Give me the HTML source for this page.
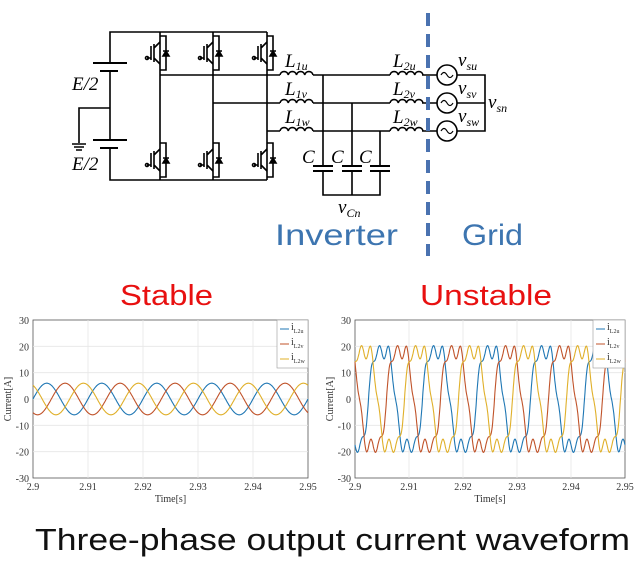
<!DOCTYPE html>
<html><head><meta charset="utf-8"><style>
html,body{margin:0;padding:0;background:#fff;width:641px;height:571px;overflow:hidden}
svg{display:block}
.s{font-family:"Liberation Serif",serif;font-style:italic}
.t{font-family:"Liberation Serif",serif;font-size:10px;fill:#333}
</style></head><body>
<svg id="sv" width="641" height="571" viewBox="0 0 641 571" xmlns="http://www.w3.org/2000/svg">
<g stroke="#000" stroke-width="1.6" fill="none" id="circ">
<path d="M110 63 V32 H267 M110 71 V140 M110 148 V180 H267"/>
<path d="M93 63 H127 M100 71 H118 M93 140 H127 M100 148 H118" stroke-width="2"/>
<path d="M110 108 H79 V143 M72 144 H86 M74 147 H84 M76 150 H82"/>
<path d="M160 32 V180 M213 32 V180 M267 32 V180"/>
<path d="M160 75 H280 M213 103 H280 M267 131 H280"/>
<path d="M313 75 H390 M313 103 H390 M313 131 H390 M422 75 H437 M422 103 H437 M422 131 H437"/>
<path d="M323 75 V166 M352 103 V166 M380 131 V166 M323 171 V195 H380 V171 M352 171 V195"/>
<path d="M313 166 H333 M313 171 H333 M342 166 H362 M342 171 H362 M370 166 H390 M370 171 H390" stroke-width="2"/>
<circle cx="447" cy="75" r="10"/><circle cx="447" cy="103" r="10"/><circle cx="447" cy="131" r="10"/>
<path d="M457 75 H485 V131 H457 M457 103 H485"/>
<path d="M441 75 q3 -5 6 0 t6 0 M441 103 q3 -5 6 0 t6 0 M441 131 q3 -5 6 0 t6 0" stroke-width="1.2"/>
</g>
<g fill="#000" class="s" font-size="19">
<text x="72" y="90">E/2</text><text x="72" y="170">E/2</text>
<text x="285" y="67">L<tspan font-size="12" dy="3">1u</tspan></text>
<text x="285" y="95">L<tspan font-size="12" dy="3">1v</tspan></text>
<text x="285" y="123">L<tspan font-size="12" dy="3">1w</tspan></text>
<text x="393" y="67">L<tspan font-size="12" dy="3">2u</tspan></text>
<text x="393" y="95">L<tspan font-size="12" dy="3">2v</tspan></text>
<text x="393" y="123">L<tspan font-size="12" dy="3">2w</tspan></text>
<text x="302" y="163">C</text><text x="331" y="163">C</text><text x="359" y="163">C</text>
<text x="338" y="213">v<tspan font-size="12" dy="4">Cn</tspan></text>
<text x="458" y="66">v<tspan font-size="12" dy="4">su</tspan></text>
<text x="458" y="94">v<tspan font-size="12" dy="4">sv</tspan></text>
<text x="458" y="122">v<tspan font-size="12" dy="4">sw</tspan></text>
<text x="488" y="108">v<tspan font-size="12" dy="4">sn</tspan></text>
</g>
<line x1="428" y1="13" x2="428" y2="256" stroke="#4a72b0" stroke-width="4" stroke-dasharray="13,8"/>
<g font-family="'Liberation Sans',sans-serif" font-size="30" fill="#3d75b0">
<text x="275" y="245" textLength="123" lengthAdjust="spacingAndGlyphs">Inverter</text><text x="462" y="245" textLength="61" lengthAdjust="spacingAndGlyphs">Grid</text></g>
<g font-family="'Liberation Sans',sans-serif" font-size="29" fill="#e81010">
<text x="120" y="305" textLength="93" lengthAdjust="spacingAndGlyphs">Stable</text><text x="420" y="305" textLength="132" lengthAdjust="spacingAndGlyphs">Unstable</text></g>
<text x="35" y="550" font-family="'Liberation Sans','Noto Sans CJK JP',sans-serif" font-size="31" fill="#111" textLength="595" lengthAdjust="spacingAndGlyphs">Three-phase output current waveform</text>
</svg>
<script>
var S=document.getElementById('sv'),ns='http://www.w3.org/2000/svg',C=document.getElementById('circ');
function el(t,a,p){var e=document.createElementNS(ns,t);for(var k in a)e.setAttribute(k,a[k]);(p||S).appendChild(e);return e;}
[160,213,267].forEach(function(L){[[36,70],[143,177]].forEach(function(r){var a=r[0],b=r[1];
el('path',{d:'M'+L+' '+a+' H'+(L+6)+' V'+b+' H'+L+' M'+(L-6)+' '+(a+8)+' V'+(b-8)+' M'+(L-6)+' '+(a+12)+' L'+L+' '+(a+6)+' M'+(L-6)+' '+(b-12)+' L'+L+' '+(b-6)+' M'+(L-9)+' '+(a+10)+' V'+(b-10)+' M'+(L-9)+' '+(b-12)+' H'+(L-13)},C);
el('circle',{cx:L-13,cy:b-12,r:1.5},C);
el('path',{d:'M'+(L+3)+' '+((a+b)/2+3)+' h6 l-3 -5 z M'+(L+3)+' '+((a+b)/2-2)+' h6',fill:'#000'},C);});});
[[280,75],[280,103],[280,131],[390,75],[390,103],[390,131]].forEach(function(p){var d='M'+p[0]+' '+p[1];for(var i=0;i<4;i++)d+=' a4.2 4.2 0 0 1 '+(33/4)+' 0';el('path',{d:d},C);});
function plot(x0,x1,fn,leg){var y0=320,y1=478,yc=399,k=(y1-y0)/60;
el('rect',{x:x0,y:y0,width:x1-x0,height:y1-y0,fill:'#fff',stroke:'#555','stroke-width':0.8});
for(var i=0;i<=6;i++){var y=y0+i*(y1-y0)/6;if(i>0&&i<6)el('line',{x1:x0,x2:x1,y1:y,y2:y,stroke:'#e6e6e6','stroke-width':0.8});
var tx=el('text',{x:x0-4,y:y+4,'text-anchor':'end','class':'t'});tx.textContent=30-10*i;}
for(var i=0;i<=5;i++){var x=x0+i*(x1-x0)/5;if(i>0&&i<5)el('line',{x1:x,x2:x,y1:y0,y2:y1,stroke:'#e6e6e6','stroke-width':0.8});
var tx=el('text',{x:x,y:y1+12,'text-anchor':'middle','class':'t'});tx.textContent=['2.9','2.91','2.92','2.93','2.94','2.95'][i];}
var t=el('text',{x:(x0+x1)/2,y:y1+24,'text-anchor':'middle','class':'t'});t.textContent='Time[s]';
t=el('text',{x:0,y:0,'text-anchor':'middle','class':'t',transform:'translate('+(x0-22)+' '+yc+') rotate(-90)'});t.textContent='Current[A]';
var cols=['#1f77b4','#c0532a','#e0b02a'];
for(var ph=0;ph<3;ph++){var d='';for(var j=0;j<=600;j++){var tt=j/600*0.05,v=fn(tt,ph);d+=(j?'L':'M')+(x0+j/600*(x1-x0)).toFixed(1)+' '+(yc-v*k).toFixed(1);}
el('path',{d:d,fill:'none',stroke:cols[ph],'stroke-width':1.1});}
el('rect',{x:leg,y:y0,width:x1-leg,height:48,fill:'#fff',stroke:'#999','stroke-width':0.6});
['u','v','w'].forEach(function(s,i){var y=y0+9+i*15;el('line',{x1:leg+3,x2:leg+12,y1:y,y2:y,stroke:cols[i]});
var q=el('text',{x:leg+14,y:y+1,'class':'t','font-size':'9'});q.innerHTML='i<tspan font-size="6" dy="3">L2'+s+'</tspan>';});}
plot(33,308,function(t,p){var th=2*Math.PI*t/0.01-p*2*Math.PI/3;return 6*Math.sin(th);},277);
plot(355,625,function(t,p){var th=2*Math.PI*t/0.01-Math.PI/2-p*2*Math.PI/3;return 21*(Math.sin(th)+0.17*Math.sin(3*th))+2.5*Math.sin(6*th);},593);
</script>
</body></html>
